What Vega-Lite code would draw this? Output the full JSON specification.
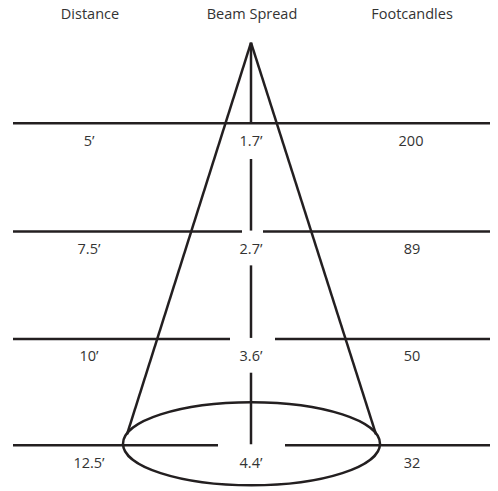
{
  "$schema": "https://vega.github.io/schema/vega-lite/v6.json",
  "width": 498,
  "height": 491,
  "padding": 0,
  "autosize": {"type": "fit", "contains": "padding"},
  "background": "white",
  "config": {"view": {"stroke": null}},
  "datasets": {
    "segments": [
      {"x1": 13, "y1": 124, "x2": 490, "y2": 124},
      {"x1": 13, "y1": 233, "x2": 242, "y2": 233},
      {"x1": 263, "y1": 233, "x2": 490, "y2": 233},
      {"x1": 13, "y1": 341, "x2": 230, "y2": 341},
      {"x1": 275, "y1": 341, "x2": 490, "y2": 341},
      {"x1": 13, "y1": 448, "x2": 218, "y2": 448},
      {"x1": 285, "y1": 448, "x2": 490, "y2": 448},
      {"x1": 251, "y1": 43, "x2": 251, "y2": 124},
      {"x1": 251, "y1": 160, "x2": 251, "y2": 232},
      {"x1": 251, "y1": 267, "x2": 251, "y2": 340},
      {"x1": 251, "y1": 375, "x2": 251, "y2": 447},
      {"x1": 251, "y1": 43, "x2": 127, "y2": 437},
      {"x1": 251, "y1": 43, "x2": 376, "y2": 437}
    ],
    "ellipse": [{"x": 251.5, "y": 446.5}],
    "labels": [
      {"x": 90, "y": 15, "text": "Distance"},
      {"x": 252, "y": 15, "text": "Beam Spread"},
      {"x": 412, "y": 15, "text": "Footcandles"},
      {"x": 89, "y": 143, "text": "5’"},
      {"x": 251, "y": 143, "text": "1.7’"},
      {"x": 411, "y": 143, "text": "200"},
      {"x": 89, "y": 252, "text": "7.5’"},
      {"x": 251, "y": 252, "text": "2.7’"},
      {"x": 412, "y": 252, "text": "89"},
      {"x": 89, "y": 359, "text": "10’"},
      {"x": 251, "y": 359, "text": "3.6’"},
      {"x": 412, "y": 359, "text": "50"},
      {"x": 89, "y": 467, "text": "12.5’"},
      {"x": 251, "y": 467, "text": "4.4’"},
      {"x": 412, "y": 467, "text": "32"}
    ]
  },
  "resolve": {"scale": {"x": "shared", "y": "shared"}},
  "layer": [
    {
      "data": {"name": "segments"},
      "mark": {"type": "rule", "color": "#231f20", "strokeWidth": 2.5},
      "encoding": {
        "x": {"field": "x1", "type": "quantitative", "scale": {"domain": [0, 498], "nice": false, "zero": false}, "axis": null},
        "y": {"field": "y1", "type": "quantitative", "scale": {"domain": [0, 491], "nice": false, "zero": false, "reverse": true}, "axis": null},
        "x2": {"field": "x2"},
        "y2": {"field": "y2"}
      }
    },
    {
      "data": {"name": "ellipse"},
      "mark": {
        "type": "point",
        "filled": false,
        "stroke": "#231f20",
        "strokeWidth": 2.5,
        "opacity": 1,
        "size": 66049,
        "shape": "M -1 0 C -1 -0.1784 -0.5523 -0.323 0 -0.323 C 0.5523 -0.323 1 -0.1784 1 0 C 1 0.1784 0.5523 0.323 0 0.323 C -0.5523 0.323 -1 0.1784 -1 0 Z"
      },
      "encoding": {
        "x": {"field": "x", "type": "quantitative"},
        "y": {"field": "y", "type": "quantitative"}
      }
    },
    {
      "data": {"name": "labels"},
      "mark": {"type": "text", "font": "Open Sans", "fontSize": 14.5, "color": "#333333", "align": "center", "baseline": "middle"},
      "encoding": {
        "x": {"field": "x", "type": "quantitative"},
        "y": {"field": "y", "type": "quantitative"},
        "text": {"field": "text"}
      }
    }
  ]
}
